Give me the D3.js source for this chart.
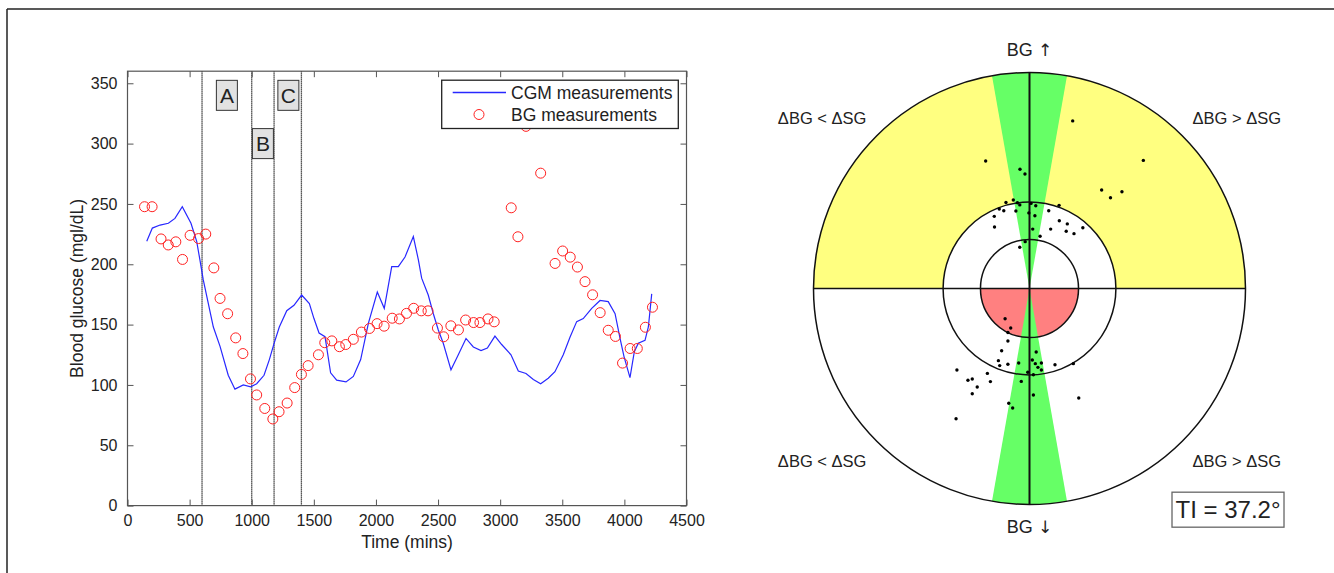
<!DOCTYPE html>
<html>
<head>
<meta charset="utf-8">
<script src="https://cdn.jsdelivr.net/npm/d3@7"></script>
<style>
  body { margin: 0; background: #fff; }
  svg { display: block; }
  text { font-family: "Liberation Sans", Arial, Helvetica, sans-serif; fill: #222; }
</style>
</head>
<body>
<svg id="chart" width="1334" height="573"></svg>
<script>
// ---- Left panel: CGM trace and reference BG samples ----
const cgmTime = [155, 200, 262, 329, 382, 441, 511, 557, 584, 610, 691, 745, 811, 865, 932, 992, 1040, 1099, 1142, 1180,
  1222, 1282, 1340, 1402, 1464, 1501, 1542, 1590, 1635, 1684, 1759, 1818, 1877, 1939, 2011, 2067, 2127, 2180, 2234, 2301,
  2342, 2368, 2421, 2462, 2502, 2542, 2604, 2663, 2725, 2784, 2846, 2897, 2958, 3012, 3087, 3146, 3208, 3267, 3326, 3387,
  3441, 3508, 3562, 3616, 3669, 3737, 3804, 3870, 3925, 3965, 3997, 4045, 4080, 4112, 4166, 4193, 4220];
const cgmValue = [219, 230, 232.5, 234, 238, 247.7, 234, 219, 203, 187, 148, 132, 108, 96.5, 100, 98.5, 101, 108, 121, 134.5,
  148, 161.5, 166, 174.5, 167.5, 155, 143, 140, 110, 104, 102.5, 107, 121, 151, 177, 163.5, 198, 198, 206, 223,
  203.5, 188.5, 174.5, 159, 145.5, 134.5, 112.5, 125, 138.5, 131.5, 128.5, 130.5, 140.5, 133.5, 125, 111.5, 109.5, 104.5, 101, 105.5,
  111, 125, 139.5, 152.5, 155, 163.5, 170, 169, 159, 138.5, 123.5, 106, 127.5, 134.5, 137, 148, 175.5];

const bgTime = [137, 198, 270, 328, 389, 443, 504, 572, 630, 695, 745, 806, 871, 929, 990, 1040, 1105, 1170, 1220, 1285,
  1346, 1400, 1454, 1537, 1588, 1645, 1706, 1757, 1818, 1883, 1948, 2009, 2066, 2131, 2189, 2246, 2304, 2365, 2419, 2495,
  2545, 2603, 2664, 2722, 2786, 2837, 2902, 2952, 3089, 3143, 3208, 3326, 3442, 3503, 3564, 3622, 3683, 3744, 3805, 3870,
  3928, 3985, 4046, 4104, 4169, 4226];
const bgValue = [247.7, 247.7, 221, 216, 218.6, 204, 224, 221.3, 225, 197, 171.7, 159, 139, 126, 105, 91.7, 80.5, 71.8, 77.8, 85,
  97.8, 108.7, 116, 125, 135, 136.5, 131.7, 133.5, 137.8, 143.8, 146.8, 150.8, 148.7, 155.3, 154.7, 159.3, 163.5, 161.4, 161.4, 147.1,
  139.9, 149, 145.6, 153.8, 151.7, 151.7, 154.7, 152.3, 246.8, 222.8, 314.3, 275.5, 200.7, 211, 205.9, 197.7, 185.6, 174.7, 159.9, 145.3,
  140.2, 118.1, 130.2, 130.2, 147.8, 164.4];

const eventTimes = [600, 1000, 1180, 1400];
const eventLabels = ["A", "B", "C"];
const eventLabelTime = [800, 1090, 1295];
const eventLabelValue = [340, 300, 340];

const xTicks = [0, 500, 1000, 1500, 2000, 2500, 3000, 3500, 4000, 4500];
const yTicks = [0, 50, 100, 150, 200, 250, 300, 350];
const seriesNames = ["CGM measurements", "BG measurements"];

// ---- Right panel: rate-error grid points (normalised to outer radius) ----
const pointX = [-0.203, 0.200, 0.527, -0.044, -0.021, 0.334, 0.375, 0.428, -0.109, -0.075, -0.056, -0.045, 0.007, 0.029, 0.137,
  -0.140, -0.119, -0.063, -0.003, 0.025, 0.089, -0.163, -0.162, 0.138, 0.175, 0.098, 0.170, 0.206, 0.247, 0.015, 0.049, -0.020, -0.045,
  -0.113, -0.087, -0.100, -0.100, -0.129, 0.031, -0.144, -0.138, -0.100, -0.050, 0.013, 0.027, 0.055, 0.039, 0.055, 0.118,
  0.203, -0.008, 0.018, -0.336, -0.195, -0.285, -0.265, -0.181, -0.038, -0.242, -0.265, 0.018, 0.228, -0.096, -0.078, -0.340];
const pointY = [0.590, 0.776, 0.593, 0.552, 0.530, 0.456, 0.420, 0.448, 0.398, 0.410, 0.397, 0.387, 0.394, 0.383, 0.385,
  0.368, 0.360, 0.359, 0.350, 0.337, 0.360, 0.334, 0.285, 0.314, 0.299, 0.275, 0.265, 0.254, 0.281, 0.275, 0.242, 0.217, 0.191,
  -0.140, -0.183, -0.204, -0.243, -0.288, -0.294, -0.334, -0.357, -0.351, -0.345, -0.331, -0.348, -0.345, -0.365, -0.377, -0.353,
  -0.348, -0.388, -0.399, -0.377, -0.393, -0.425, -0.419, -0.431, -0.430, -0.456, -0.487, -0.493, -0.507, -0.531, -0.553, -0.603];
const ringRadii = [0.227, 0.40, 1.0];
const greenHalfAngle = 10; // degrees either side of the vertical axis
const quadrantLabels = ["\u0394BG < \u0394SG", "\u0394BG > \u0394SG", "\u0394BG < \u0394SG", "\u0394BG > \u0394SG"];
const quadrantLabelX = [-0.96, 0.96, -0.96, 0.96];
const quadrantLabelY = [0.79, 0.79, -0.80, -0.80];
const axisLabels = ["BG", "BG"];
const axisArrows = ["\u2191", "\u2193"];
const axisLabelY = [1.104, -1.104];
const tiText = "TI = 37.2\u00B0";

const svg = d3.select("#chart");

// page frame
svg.append("line").attr("x1", 7).attr("y1", 9).attr("x2", 1334).attr("y2", 9).attr("stroke", "#222").attr("stroke-width", 1.5);
svg.append("line").attr("x1", 7).attr("y1", 9).attr("x2", 7).attr("y2", 573).attr("stroke", "#222").attr("stroke-width", 1.5);

// ================= Left panel =================
const L = { left: 127.5, right: 686.5, top: 71.2, bottom: 505.6 };
const x = d3.scaleLinear().domain([0, 4500]).range([L.left, L.right]);
const y = d3.scaleLinear().domain([0, 360]).range([L.bottom, L.top]);
const axisColor = "#555";

const left = svg.append("g");

// event separators
left.selectAll("line.event").data(eventTimes).join("line")
  .attr("class", "event")
  .attr("x1", d => x(d)).attr("x2", d => x(d))
  .attr("y1", L.top).attr("y2", L.bottom)
  .attr("stroke", "#222").attr("stroke-width", 1.3).attr("stroke-dasharray", "1.2,0.8");

// event label boxes
const evG = left.selectAll("g.ev").data(eventLabels).join("g")
  .attr("class", "ev")
  .attr("transform", (d, i) => `translate(${x(eventLabelTime[i])},${y(eventLabelValue[i])})`);
evG.append("rect").attr("x", -10.5).attr("y", -15).attr("width", 21).attr("height", 30)
  .attr("fill", "#e2e2e2").attr("stroke", "#333").attr("stroke-width", 1);
evG.append("text").attr("text-anchor", "middle").attr("dy", "0.36em")
  .style("font-size", "21px").text(d => d);

// CGM line
const line = d3.line().x((d, i) => x(cgmTime[i])).y(d => y(d));
left.append("path").datum(cgmValue)
  .attr("d", line).attr("fill", "none").attr("stroke", "#2828ff").attr("stroke-width", 1.2);

// BG circles
left.selectAll("circle.bg").data(bgValue).join("circle")
  .attr("class", "bg")
  .attr("cx", (d, i) => x(bgTime[i])).attr("cy", d => y(d)).attr("r", 5)
  .attr("fill", "none").attr("stroke", "#ff2020").attr("stroke-width", 1);

// axes (ticks point inwards, mirrored on top/right)
const xAxisB = d3.axisBottom(x).tickValues(xTicks).tickSize(-6).tickPadding(9).tickFormat(d3.format("d"));
const yAxisL = d3.axisLeft(y).tickValues(yTicks).tickSize(-6).tickPadding(10).tickFormat(d3.format("d"));
const xAxisT = d3.axisTop(x).tickValues(xTicks).tickSize(-6).tickFormat("");
const yAxisR = d3.axisRight(y).tickValues(yTicks).tickSize(-6).tickFormat("");

function styleAxis(g) {
  g.select(".domain").remove();
  g.selectAll(".tick line").attr("stroke", axisColor);
  g.selectAll(".tick text").style("font-size", "16px").attr("fill", "#222").style("font-family", "'Liberation Sans', Arial, sans-serif");
}
left.append("g").attr("transform", `translate(0,${L.bottom})`).call(xAxisB).call(styleAxis);
left.append("g").attr("transform", `translate(${L.left},0)`).call(yAxisL).call(styleAxis);
left.append("g").attr("transform", `translate(0,${L.top})`).call(xAxisT).call(styleAxis);
left.append("g").attr("transform", `translate(${L.right},0)`).call(yAxisR).call(styleAxis);

left.append("rect").attr("x", L.left).attr("y", L.top)
  .attr("width", L.right - L.left).attr("height", L.bottom - L.top)
  .attr("fill", "none").attr("stroke", axisColor).attr("stroke-width", 1.2);

// axis titles
left.append("text").attr("x", (L.left + L.right) / 2).attr("y", 548)
  .attr("text-anchor", "middle").style("font-size", "17.5px").text("Time (mins)");
left.append("text").attr("transform", `translate(77,${(L.top + L.bottom) / 2}) rotate(-90)`)
  .attr("text-anchor", "middle").attr("dy", "0.35em").style("font-size", "17.5px").text("Blood glucose (mgl/dL)");

// legend
const lg = left.append("g").attr("transform", `translate(${L.right - 8.2},${L.top + 9})`);
lg.append("rect").attr("x", -236.6).attr("y", 0).attr("width", 236.6).attr("height", 48.3)
  .attr("fill", "#fff").attr("stroke", "#222").attr("stroke-width", 1.3);
lg.append("line").attr("x1", -225.6).attr("x2", -172.3).attr("y1", 12.3).attr("y2", 12.3)
  .attr("stroke", "#2828ff").attr("stroke-width", 1.5);
lg.append("circle").attr("cx", -199.3).attr("cy", 34.3).attr("r", 5)
  .attr("fill", "none").attr("stroke", "#ff2020").attr("stroke-width", 1);
lg.selectAll("text").data(seriesNames).join("text")
  .attr("x", -167.3).attr("y", (d, i) => 18.5 + i * 22)
  .style("font-size", "17.5px").text(d => d);

// ================= Right panel =================
const cx = 1029.5, cy = 288.5, R = 216;
const px = d3.scaleLinear().domain([-1, 1]).range([cx - R, cx + R]);
const py = d3.scaleLinear().domain([-1, 1]).range([cy + R, cy - R]);
const rr = d3.scaleLinear().domain([0, 1]).range([0, R]);
const deg = Math.PI / 180;

const right = svg.append("g");
const center = right.append("g").attr("transform", `translate(${cx},${cy})`);
const arc = d3.arc();

center.append("circle").attr("r", rr(1)).attr("fill", "#fff");
// upper half outside the middle ring
center.append("path").attr("d", arc({ innerRadius: rr(ringRadii[1]), outerRadius: rr(1), startAngle: -90 * deg, endAngle: 90 * deg }))
  .attr("fill", "#ffff80");
// lower half of the inner disc
center.append("path").attr("d", arc({ innerRadius: 0, outerRadius: rr(ringRadii[0]), startAngle: 90 * deg, endAngle: 270 * deg }))
  .attr("fill", "#ff8080");
// vertical wedges
[0, 180].forEach(a => {
  center.append("path").attr("d", arc({ innerRadius: 0, outerRadius: rr(1), startAngle: (a - greenHalfAngle) * deg, endAngle: (a + greenHalfAngle) * deg }))
    .attr("fill", "#66ff66");
});

// rings
center.selectAll("circle.ring").data(ringRadii).join("circle")
  .attr("class", "ring").attr("r", d => rr(d))
  .attr("fill", "none").attr("stroke", "#111").attr("stroke-width", 1.5);

// crosshair
right.append("line").attr("x1", px(-1)).attr("x2", px(1)).attr("y1", py(0)).attr("y2", py(0))
  .attr("stroke", "#111").attr("stroke-width", 1.6);
right.append("line").attr("x1", px(0)).attr("x2", px(0)).attr("y1", py(1)).attr("y2", py(-1))
  .attr("stroke", "#111").attr("stroke-width", 2);

// points
right.selectAll("circle.pt").data(pointX).join("circle")
  .attr("class", "pt").attr("cx", d => px(d)).attr("cy", (d, i) => py(pointY[i])).attr("r", 1.7)
  .attr("fill", "#000");

// labels
right.selectAll("text.q").data(quadrantLabels).join("text")
  .attr("class", "q").attr("x", (d, i) => px(quadrantLabelX[i])).attr("y", (d, i) => py(quadrantLabelY[i]))
  .attr("text-anchor", "middle").attr("dy", "0.35em").style("font-size", "16.5px").text(d => d);
const axT = right.selectAll("text.ax").data(axisLabels).join("text")
  .attr("class", "ax").attr("x", px(0)).attr("y", (d, i) => py(axisLabelY[i]))
  .attr("text-anchor", "middle").attr("dy", "0.35em").style("font-size", "18px");
axT.append("tspan").text(d => d + " ");
axT.append("tspan").style("font-family", "'DejaVu Sans', sans-serif").style("font-size", "17px")
  .attr("fill", "#222").text((d, i) => axisArrows[i]);

// TI annotation
const ti = right.append("g").attr("transform", `translate(${px(0.919)},${py(-1.024)})`);
ti.append("rect").attr("x", -56).attr("y", -17.5).attr("width", 112).attr("height", 35)
  .attr("fill", "#fff").attr("stroke", "#666").attr("stroke-width", 1.3);
ti.append("text").attr("text-anchor", "middle").attr("dy", "0.36em").style("font-size", "24px").text(tiText);
</script>
</body>
</html>
